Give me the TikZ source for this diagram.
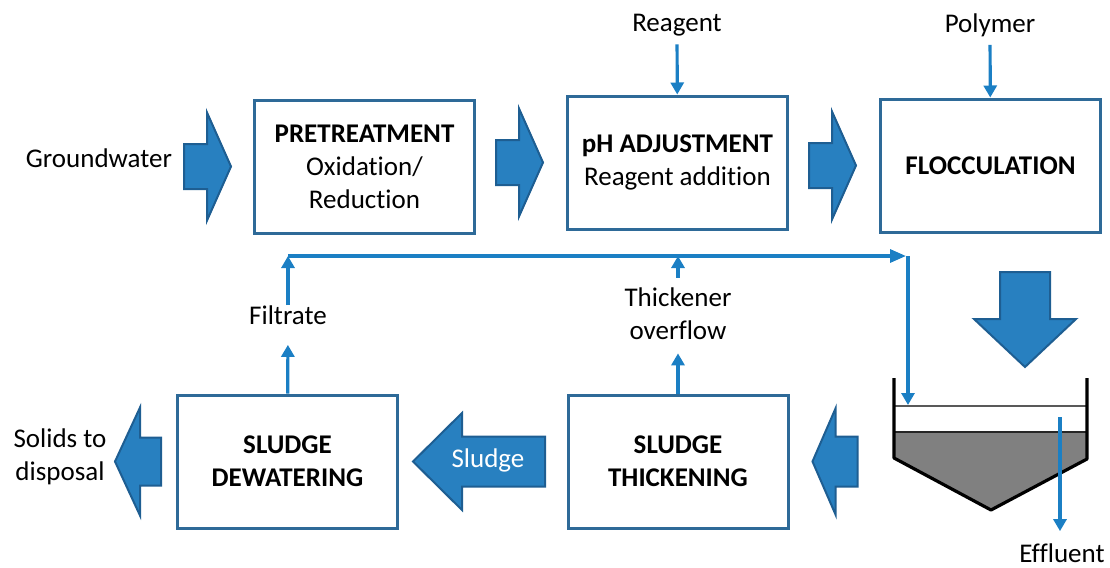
\documentclass[tikz,border=0pt]{standalone}
\usepackage{fontspec}
\setmainfont{Carlito}[Ligatures=NoCommon]
\usepackage{tikz}
\usetikzlibrary{positioning}
\usetikzlibrary{arrows.meta,calc}

\definecolor{boxblue}{RGB}{46,106,152}
\definecolor{flowblue}{RGB}{27,127,196}
\definecolor{arrowblue}{RGB}{40,128,192}
\definecolor{arrowedge}{RGB}{30,94,146}
\definecolor{sludgegray}{RGB}{128,128,128}

\tikzset{
	txt/.style={font=\fontsize{13.5}{16.5}\selectfont},
	procbox/.style={txt, draw=boxblue, line width=1.5pt, fill=white,
		minimum width=110pt, minimum height=66.5pt, align=center, inner sep=2pt},
	lbl/.style={txt, inner sep=0pt, align=center},
	flow/.style={draw=flowblue, line width=1.6pt, -{Triangle[width=6.5pt,length=6pt]}},
	bigarrow/.style={fill=arrowblue, draw=arrowedge, line width=1pt, line join=miter},
	tankwall/.style={draw=black, line width=1.6pt, line join=round},
}

% block arrow: tip, angle, length, head length, head half width, shaft half width
\newcommand{\blockarrow}[6]{%
	\draw[bigarrow, shift={(#1)}, rotate=#2] (0,0) -- (-#4,-#5) -- (-#4,-#6) -- (-#3,-#6)
	-- (-#3,#6) -- (-#4,#6) -- (-#4,#5) -- cycle;}

\begin{document}
\begin{tikzpicture}[x=0.5pt, y=-0.5pt]
		
		% ---------------------
		% Proper size --- Bounding box
		\useasboundingbox (0,0) rectangle (1110,568);
		
		% ---------------------
		% Process boxes
		\node[procbox] (pre) at (364.5,166.5) {\textbf{PRETREATMENT}\\Oxidation/\\Reduction};
		\node[procbox] (ph) at (677.5,162.5) {\textbf{pH ADJUSTMENT}\\Reagent addition};
		\node[procbox] (floc) at (990.5,165.5) {\textbf{FLOCCULATION}};
		\node[procbox] (dew) at (287.5,461.5) {\textbf{SLUDGE}\\\textbf{DEWATERING}};
		\node[procbox] (thk) at (678,461.5) {\textbf{SLUDGE}\\\textbf{THICKENING}};
		
		% ---------------------
		% Labels
		\node[lbl] (gw) at (99,158) {Groundwater};
		\node[lbl] (reag) at (677,25) {Reagent};
		\node[lbl] (poly) at (990,25) {Polymer};
		\node[lbl] (fil) at (288,315) {Filtrate};
		\node[lbl] (ovf) at (678,314) {Thickener\\overflow};
		\node[lbl] (sol) at (60,457) {Solids to\\disposal};
		\node[lbl] (eff) at (1062,553) {Effluent};
		
		% ---------------------
		% Block arrows
		\path (pre.west) +(-22,0) coordinate (a1);
		\path (ph.west) +(-23,0) coordinate (a2);
		\path (floc.west) +(-23,0) coordinate (a3);
		\coordinate (a4) at (1025,367);
		\path (thk.east) +(23,0) coordinate (a5);
		\path (dew.east) +(14,0) coordinate (a6);
		\path (dew.west) +(-61,0) coordinate (a7);
		
		\blockarrow{a1}{0}{47}{24}{54}{22.5}
		\blockarrow{a2}{0}{47}{24}{54}{22.5}
		\blockarrow{a3}{0}{47}{24}{54}{22.5}
		\blockarrow{a4}{-90}{95}{48}{51}{25}
		\blockarrow{a5}{180}{45}{23}{53}{25}
		\blockarrow{a6}{180}{132}{49}{48.5}{25}
		\blockarrow{a7}{180}{46}{25}{54}{24}
		\node[lbl, text=white] (sludge) at (488,460) {Sludge};
		
		% ---------------------
		% Settler
		\coordinate (tkTL) at (894,378);
		\coordinate (tkTR) at (1087,378);
		\coordinate (tkBL) at (894,458);
		\coordinate (tkBR) at (1087,459);
		\coordinate (tkV) at (991,510);
		\coordinate (slL) at (894,432);
		\coordinate (slR) at (1087,432);
		\coordinate (wlL) at (894,406);
		\coordinate (wlR) at (1087,406);
		
		\fill[sludgegray] (slL) -- (slR) -- (tkBR) -- (tkV) -- (tkBL) -- cycle;
		\draw[draw=black!65, line width=0.9pt] (wlL) -- (wlR);
		\draw[draw=black!85, line width=0.9pt] (slL) -- (slR);
		\draw[tankwall] (tkTL) -- (tkBL) -- (tkV) -- (tkBR) -- (tkTR);
		
		% ---------------------
		% Recycle line
		\coordinate (recL) at (288,256);
		\coordinate (recR) at (906,256);
		\coordinate (recD) at (908,256);
		\coordinate (tankin) at (908,405);
		\coordinate (effin) at (1060,417);
		
		\draw[flow, shorten <=4pt] (reag) -- (ph);
		\draw[flow, shorten <=4pt] (poly) -- (floc);
		\draw[flow, shorten >=10pt] (dew) -- (fil);
		\draw[flow] (fil) -- (recL);
		\draw[flow, shorten >=6.5pt] (thk) -- (ovf);
		\draw[flow, shorten <=5pt] (ovf) -- (ovf |- recL);
		\draw[flow, -{Triangle[width=6.5pt,length=8pt]}] (recL) -- (recR);
		\draw[flow] (recD) -- (tankin);
		\draw[flow, shorten >=6pt] (effin) -- (effin |- eff.north);
		
\end{tikzpicture}
\end{document}
